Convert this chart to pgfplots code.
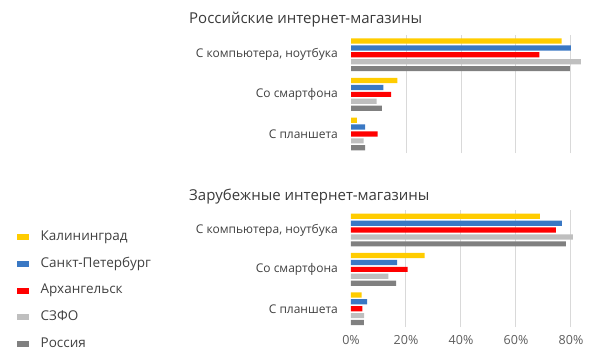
\documentclass[border=0pt]{standalone}
\usepackage{pgfplots}
\pgfplotsset{compat=1.18}
\usepackage{fontspec}
\setmainfont{Open Sans}
\definecolor{cyel}{HTML}{FFCC00}
\definecolor{cblu}{HTML}{3A78C4}
\definecolor{cred}{HTML}{FF0000}
\definecolor{clgr}{HTML}{BFBFBF}
\definecolor{cdgr}{HTML}{808080}
\definecolor{ctxt}{HTML}{404040}
\definecolor{cgrid}{HTML}{D9D9D9}
\pgfplotsset{
  sq/.style={fill=#1, draw=none, legend image code/.code={\fill[#1] (0pt,-3pt) rectangle (12pt,3pt);}},
  mystyle/.style={
    xbar, scale only axis, width=233.75pt, xmin=0, xmax=85,
    ytick={0,1,2}, yticklabels={С планшета,Со смартфона,{С компьютера, ноутбука}},
    axis line style={draw=none}, major tick length=0pt,
    xtick={20,40,60,80}, xmajorgrids, grid style={cgrid, line width=1pt},
    bar width=5.2pt,
    yticklabel style={font=\fontsize{12}{14}\selectfont, text=ctxt, inner sep=0pt, xshift=-13pt},
    xticklabel style={font=\fontsize{12.5}{14}\selectfont, text=ctxt!85, yshift=-5pt},
  }
}
\begin{document}
\begin{tikzpicture}
\path[use as bounding box] (0,0) rectangle (600pt,360pt);
\node[anchor=west, font=\fontsize{15}{18}\selectfont, text=ctxt!90!black, inner sep=0pt] at (189pt,340pt) {Российские интернет-магазины};
\node[anchor=west, font=\fontsize{15}{18}\selectfont, text=ctxt!90!black, inner sep=0pt] at (189pt,163pt) {Зарубежные интернет-магазины};
\begin{axis}[mystyle, at={(351pt,207pt)}, anchor=south west, height=118pt, ymin=-0.48, ymax=2.5, xticklabels={}]
\addplot[sq=cyel, bar shift=13.8pt] coordinates {(76.6,2) (16.9,1) (2.1,0)};
\addplot[sq=cblu, bar shift=6.9pt] coordinates {(80.0,2) (11.8,1) (5.1,0)};
\addplot[sq=cred, bar shift=0pt] coordinates {(68.5,2) (14.6,1) (9.7,0)};
\addplot[sq=clgr, bar shift=-6.9pt] coordinates {(83.6,2) (9.3,1) (4.6,0)};
\addplot[sq=cdgr, bar shift=-13.8pt] coordinates {(79.6,2) (11.2,1) (5.1,0)};
\end{axis}
\begin{axis}[mystyle, at={(351pt,33pt)}, anchor=south west, height=117pt, ymin=-0.465, ymax=2.51,
  xticklabels={20\%,40\%,60\%,80\%}, extra x ticks={0}, extra x tick labels={0\%}, extra x tick style={grid=none},
  legend style={at={(-1.4289,0.838)}, anchor=north west, draw=none, fill=none, inner sep=0pt,
    row sep=10.1pt, column sep=9.5pt, font=\fontsize{13.5}{15}\selectfont, text=ctxt,
    nodes={inner sep=2pt, text height=9.5pt, text depth=3pt}},
  legend cell align=left]
\addplot[sq=cyel, bar shift=13.8pt] coordinates {(68.7,2) (26.8,1) (3.9,0)};
\addplot[sq=cblu, bar shift=6.9pt] coordinates {(76.7,2) (16.8,1) (5.9,0)};
\addplot[sq=cred, bar shift=0pt] coordinates {(74.5,2) (20.6,1) (4.1,0)};
\addplot[sq=clgr, bar shift=-6.9pt] coordinates {(80.7,2) (13.6,1) (4.8,0)};
\addplot[sq=cdgr, bar shift=-13.8pt] coordinates {(78.1,2) (16.4,1) (4.7,0)};
\legend{Калининград, Санкт-Петербург, Архангельск, СЗФО, Россия}
\end{axis}
\end{tikzpicture}
\end{document}
